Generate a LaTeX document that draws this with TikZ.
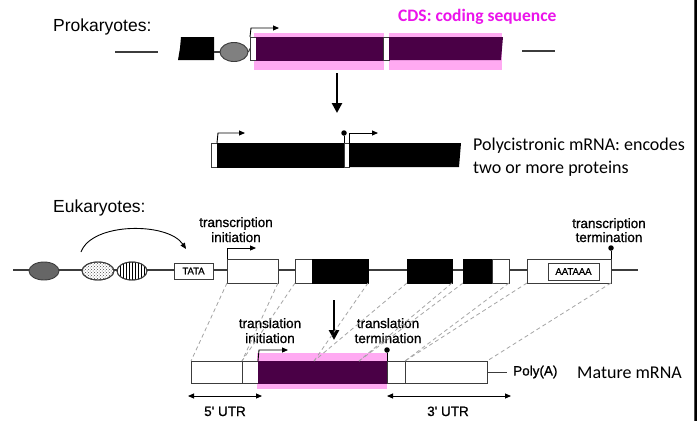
\documentclass[tikz,border=0pt]{standalone}
\usepackage{fontspec}
\setmainfont{Liberation Sans}
\newfontfamily\calib{Carlito}
\newfontfamily\semib[FakeBold=0.9]{Liberation Sans}
\usetikzlibrary{arrows.meta,patterns,shapes.geometric}
\definecolor{cdsp}{RGB}{74,0,70}
\definecolor{cdspink}{RGB}{255,170,242}
\definecolor{cdsmag}{RGB}{235,20,235}
\definecolor{dashgray}{RGB}{165,165,165}
\definecolor{outl}{RGB}{60,60,60}
\newcommand\myfs[1]{\fontsize{#1}{#1}\selectfont}
\begin{document}
\begin{tikzpicture}[x=1pt,y=-1pt,
  part/.style={draw=outl, line width=0.9pt, inner sep=0pt, outer sep=0pt, anchor=north west},
  wpart/.style={part, fill=white},
  bpart/.style={part, fill=black, draw=black},
  ppart/.style={part, fill=cdsp, draw=cdsp},
  pinkhl/.style={fill=cdspink, draw=none, inner sep=0pt, outer sep=0pt, anchor=north west},
  dna/.style={draw=outl, line width=1.1pt},
  tss/.style={draw=black, line width=0.9pt, -{Triangle[length=6pt,width=5pt]}},
  bigarrow/.style={draw=black, line width=2.6pt, -{Triangle[length=10pt,width=10pt]}},
  stopper/.style={draw=black, line width=0.9pt},
  dotend/.style={circle, fill=black, inner sep=0pt, minimum size=5.5pt},
  mapline/.style={draw=dashgray, line width=0.8pt, dash pattern=on 4pt off 3pt},
  utr/.style={draw=black, line width=0.9pt, {Triangle[length=6pt,width=5pt]}-{Triangle[length=6pt,width=5pt]}},
  big/.style={font=\myfs{17.5}},
  small/.style={font=\semib\myfs{13.5}, inner sep=0pt},
  cal/.style={font=\calib\myfs{18}, inner sep=0pt}
]
\useasboundingbox (0,0) rectangle (697,421);
\fill[white] (0,0) rectangle (697,421);
\fill[black!70] (693.6,0) rectangle (694.6,421);
\fill[black] (694.6,0) rectangle (697,421);

% ---------------- Prokaryotes ----------------
\node[big, anchor=base west, inner sep=0pt] (prok) at (53,31) {Prokaryotes:};
\node[font=\calib\bfseries\myfs{17.5}, text=cdsmag, anchor=base west, inner sep=0pt] (cds) at (398,21) {CDS: coding sequence};

\coordinate (pl1) at (115,52); \coordinate (pl2) at (158,52);
\draw[dna] (pl1) -- (pl2);
\coordinate (pr1) at (522,51); \coordinate (pr2) at (555,51);
\draw[dna] (pr1) -- (pr2);

\node[pinkhl, minimum width=130pt, minimum height=37pt] (pk1) at (254,33) {};
\node[pinkhl, minimum width=113pt, minimum height=37pt] (pk2) at (389,33) {};

\fill[black] (181,37) -- (214,37) -- (214,60) -- (178,60) -- (180,48) -- cycle;
\coordinate (pbR) at (214,52);
\node[ellipse, draw=outl, fill=black!50, line width=0.9pt, minimum width=28pt, minimum height=19pt, inner sep=0pt] (pe) at (234,52) {};
\draw[dna] (pbR) -- (pe.west);
\node[wpart, minimum width=6pt, minimum height=23pt] (pw) at (250,37) {};
\draw[dna] (pe.east) -- (pw.west);
\node[ppart, minimum width=127pt, minimum height=23pt] (pp1) at (256,37) {};
\node[wpart, minimum width=6pt, minimum height=23pt] (pg) at (383,37) {};
\fill[cdsp] (389,37) -- (503,37) -- (501,60) -- (389,60) -- cycle;
\coordinate (pt1) at (251,28);
\draw[tss] (pw.north west) -- (pt1) -- ++(28,0);

\coordinate (pa1) at (337,73); \coordinate (pa2) at (337,113);
\draw[bigarrow] (pa1) -- (pa2);

% polycistronic mRNA
\node[wpart, minimum width=6pt, minimum height=24pt] (mw1) at (211,143) {};
\node[bpart, minimum width=127pt, minimum height=24pt] (mb1) at (217,143) {};
\node[wpart, minimum width=5pt, minimum height=24pt] (mw2) at (344,143) {};
\fill[black] (349,143) -- (461,143) -- (459,167) -- (349,167) -- cycle;
\coordinate (mt1) at (218,133);
\draw[tss] (mb1.north west) -- (mt1) -- ++(27,0);
\coordinate (mt2) at (349,133);
\draw[tss] (mw2.north east) -- (mt2) -- ++(29,0);
\node[dotend] (ms) at (344,133) {};
\draw[stopper] (mw2.north west) -- (ms);
\node[cal, anchor=base west] (poly1) at (473,150) {Polycistronic mRNA: encodes};
\node[cal, anchor=base west] (poly2) at (473,173) {two or more proteins};

% ---------------- Eukaryotes ----------------
\node[big, anchor=base west, inner sep=0pt] (euk) at (53,212) {Eukaryotes:};
\coordinate (el1) at (13,270); \coordinate (el2) at (638,270);
\draw[dna] (el1) -- (el2);

\node[ellipse, draw=outl, fill=black!60, line width=0.9pt, minimum width=30pt, minimum height=18pt, inner sep=0pt] (e1) at (44,271) {};
\node[ellipse, draw=outl, fill=white, line width=0.9pt, minimum width=32pt, minimum height=18pt, inner sep=0pt] (e2) at (98,271) {};
\node[ellipse, pattern=crosshatch dots, pattern color=black!70, minimum width=32pt, minimum height=18pt, inner sep=0pt] (e2p) at (98,271) {};
\node[ellipse, draw=outl, fill=white, line width=0.9pt, minimum width=30pt, minimum height=18pt, inner sep=0pt] (e3) at (132,271) {};
\node[ellipse, pattern=vertical lines, pattern color=black, minimum width=30pt, minimum height=18pt, inner sep=0pt] (e3p) at (132,271) {};
\node[ellipse, draw=outl, line width=0.9pt, minimum width=30pt, minimum height=18pt, inner sep=0pt] (e3o) at (132,271) {};
\node[ellipse, draw=outl, line width=0.9pt, minimum width=32pt, minimum height=18pt, inner sep=0pt] (e2o) at (98,271) {};

\coordinate (ca1) at (81,252); \coordinate (ca2) at (186,249);
\draw[line width=0.9pt, -{Triangle[length=6pt,width=5pt]}] (ca1) .. controls (92,222) and (168,222) .. (ca2);

\node[wpart, minimum width=39pt, minimum height=16pt] (tata) at (174,263) {};
\node[font=\semib\myfs{9.5}, inner sep=0pt] (tatat) at (tata.center) {TATA};
\node[wpart, minimum width=51pt, minimum height=24pt] (g0) at (227,259) {};
\node[wpart, minimum width=17pt, minimum height=24pt] (g1w) at (295,259) {};
\node[bpart, minimum width=56pt, minimum height=24pt] (g1b) at (312,259) {};
\node[bpart, minimum width=45pt, minimum height=24pt] (g2) at (407,259) {};
\node[bpart, minimum width=29pt, minimum height=24pt] (g3b) at (463,259) {};
\node[wpart, minimum width=17pt, minimum height=24pt] (g3w) at (492,259) {};
\node[wpart, minimum width=84pt, minimum height=24pt] (g4) at (527,259) {};
\node[wpart, minimum width=51pt, minimum height=17pt] (aat) at (548,263) {};
\node[font=\semib\myfs{9.5}, inner sep=0pt] (aatt) at (aat.center) {AATAAA};

\coordinate (gt) at (227,248);
\draw[tss] (g0.north west) -- (gt) -- ++(29,0);
\node[dotend] (gs) at (611,248) {};
\draw[stopper] (g4.north east) -- (gs);

\node[small, anchor=base] (ti1) at (236,227) {transcription};
\node[small, anchor=base] (ti2) at (236,242) {initiation};
\node[small, anchor=base] (tt1) at (609,228) {transcription};
\node[small, anchor=base] (tt2) at (609,242) {termination};

\coordinate (ea1) at (334,300); \coordinate (ea2) at (334,340);
\draw[bigarrow] (ea1) -- (ea2);

% mature mRNA
\node[pinkhl, minimum width=130pt, minimum height=36pt] (mpk) at (257,353) {};
\node[wpart, minimum width=51pt, minimum height=22pt] (m0) at (191,361) {};
\node[wpart, minimum width=16pt, minimum height=22pt] (m1) at (242,361) {};
\node[ppart, minimum width=129pt, minimum height=22pt] (mp) at (258,361) {};
\node[wpart, minimum width=18pt, minimum height=22pt] (m3) at (387,361) {};
\node[wpart, minimum width=82pt, minimum height=22pt] (m4) at (405,361) {};
\coordinate (mx1) at (314,361);
\coordinate (mx2) at (359,361);

\coordinate (pa) at (507,372);
\draw[draw=outl, line width=0.9pt] (m4.east) -- (pa);
\node[small, anchor=west] (polya) at (513,372) {Poly(A)};
\node[cal, anchor=base west] (mature) at (577,378) {Mature mRNA};

\coordinate (mt) at (259,350);
\draw[tss] (mp.north west) -- (mt) -- ++(29,0);
\node[dotend] (mst) at (387,350) {};
\draw[stopper] (mp.north east) -- (mst);

\node[small, anchor=base] (tl1) at (270,328) {translation};
\node[small, anchor=base] (tl2) at (270,343) {initiation};
\node[small, anchor=base] (tm1) at (388,328) {translation};
\node[small, anchor=base] (tm2) at (388,343) {termination};

% mapping dashed lines
\draw[mapline] (g0.south west) -- (m0.north west);
\draw[mapline] (g0.south east) -- (m1.north west);
\draw[mapline] (g1w.south west) -- (m1.north west);
\draw[mapline] (g1b.south east) -- (mx1);
\draw[mapline] (g2.south west) -- (mx1);
\draw[mapline] (g2.south east) -- (mx2);
\draw[mapline] (g3b.south west) -- (mx2);
\draw[mapline] (g3w.south east) -- (m4.north west);
\draw[mapline] (g4.south west) -- (m4.north west);
\draw[mapline] (g4.south east) -- (m4.north east);

% UTR arrows
\coordinate (u5a) at (188,396); \coordinate (u5b) at (262,396);
\draw[utr] (u5a) -- (u5b);
\node[small, anchor=base] (u5) at (225,416) {5' UTR};
\coordinate (u3a) at (387,396); \coordinate (u3b) at (511,396);
\draw[utr] (u3a) -- (u3b);
\node[small, anchor=base] (u3) at (448,416) {3' UTR};
\end{tikzpicture}
\end{document}
